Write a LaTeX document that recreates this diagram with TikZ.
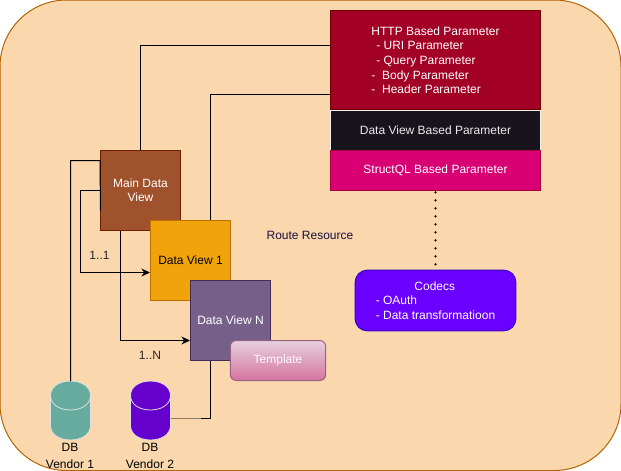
\documentclass[tikz,border=0pt]{standalone}
\usepackage{fontspec}
\setmainfont{Liberation Sans}
\usetikzlibrary{arrows.meta,calc}
\definecolor{bgf}{HTML}{FAD7AC}
\definecolor{bgd}{HTML}{B46504}
\definecolor{mainf}{HTML}{A0522D}
\definecolor{maind}{HTML}{6D1F00}
\definecolor{onef}{HTML}{F0A30A}
\definecolor{oned}{HTML}{BD7000}
\definecolor{nf}{HTML}{76608A}
\definecolor{nd}{HTML}{432D57}
\definecolor{tplt}{HTML}{E6D0DE}
\definecolor{tplb}{HTML}{D5739D}
\definecolor{tpld}{HTML}{996185}
\definecolor{httpf}{HTML}{A20025}
\definecolor{httpd}{HTML}{6F0000}
\definecolor{dvf}{HTML}{18141D}
\definecolor{sqf}{HTML}{D80073}
\definecolor{sqd}{HTML}{A50040}
\definecolor{codf}{HTML}{6A00FF}
\definecolor{codd}{HTML}{3700CC}
\definecolor{vaf}{HTML}{67AB9F}
\definecolor{vbf}{HTML}{6600CC}
\definecolor{navy}{HTML}{1A1040}
\definecolor{fade}{HTML}{8F7A62}
\newcommand{\pxfont}{\fontsize{9pt}{10.8pt}\selectfont}
\newcommand{\dbdrum}[2]{% centre x, fill colour
 \draw[fill=#2,draw=white!88!black,line width=0.6pt]
   (#1-20,395.5) .. controls (#1-20,376.2) and (#1+20,376.2) .. (#1+20,395.5)
   -- (#1+20,425.5) .. controls (#1+20,444.8) and (#1-20,444.8) .. (#1-20,425.5) -- cycle;
 \draw[draw=white!88!black,line width=0.6pt]
   (#1-20,395.5) .. controls (#1-20,414.8) and (#1+20,414.8) .. (#1+20,395.5);
}
\tikzset{
 box/.style={draw,rectangle,line width=0.75pt,inner sep=0pt,align=center,font=\pxfont},
 wire/.style={draw=black,line width=0.75pt},
 arr/.style={wire,-{Stealth[length=6.5pt,width=6pt]}},
 lbl/.style={inner sep=0pt,align=center,font=\pxfont},
 dbnode/.style={rectangle,minimum width=30pt,minimum height=44.5pt,inner sep=0pt,outer sep=0pt}
}
\begin{document}
\begin{tikzpicture}[x=0.75pt,y=-0.75pt]
\useasboundingbox (0,0) rectangle (621,471);
\path[fill=white] (0,0) rectangle (621,471);
\draw[fill=bgf,draw=bgd,line width=0.75pt,rounded corners=50pt] (0,0) rectangle (621,470.5);
% boxes
\node[box,fill=httpf,draw=httpd,text=white,minimum width=157.5pt,minimum height=74.6pt,align=left] (http) at (435.5,60.2) {HTTP Based Parameter\\[0.2pt]\hspace*{3.6pt}- URI Parameter\\[0.2pt]\hspace*{3.6pt}- Query Parameter\\[0.2pt]-\hspace*{5pt}Body Parameter\\[0.2pt]-\hspace*{5pt}Header Parameter};
\node[box,fill=dvf,draw=white!94!black,text=white!92!black,minimum width=156.8pt,minimum height=30pt] (dv) at (435.5,130) {Data View Based Parameter};
\node[box,fill=sqf,draw=sqd,text=white,minimum width=157.5pt,minimum height=30pt] (sq) at (435.5,170.5) {StructQL Based Parameter};
\node[box,fill=codf,draw=codd,text=white,rounded corners=9pt,minimum width=120.5pt,minimum height=45.5pt,align=left] (cod) at (435.5,300.5) {\hspace*{29pt}Codecs\\\hspace*{0pt}- OAuth\\- Data transformatioon};
% coordinates
\coordinate (jhA) at (140.5,45);
\coordinate (jhB) at (210.5,94.5);
\coordinate (ja) at (70.5,160.5);
\coordinate (jz) at (100.5,210.5);
\coordinate (jb) at (80.5,190.5);
\coordinate (jc) at (80.5,272.5);
\coordinate (jd) at (120.5,340.5);
\coordinate (je) at (210.5,418);
\coordinate (jf) at (201,418);
\node[box,fill=mainf,draw=maind,text=white,minimum width=60pt,minimum height=60pt] (main) at (140.5,190.5) {Main Data\\View};
\node[box,fill=onef,draw=oned,text=black,minimum width=60pt,minimum height=60pt] (one) at (190.5,260.5) {Data View 1};
\node[box,fill=nf,draw=nd,text=white,minimum width=60pt,minimum height=60pt] (nview) at (230.5,320.5) {Data View N};
\node[box,draw=tpld,top color=tplt,bottom color=tplb,text=white!92!tplt,rounded corners=4.5pt,minimum width=71.5pt,minimum height=30pt] (tpl) at (278,360.5) {\raisebox{-0.7pt}{Template}};
\dbdrum{70.5}{vaf}
\dbdrum{150.5}{vbf}
\node[dbnode] (va) at (70.5,410.5) {};
\node[dbnode] (vb) at (150.5,410.5) {};
% connectors
\draw[wire] (main.north) -- (jhA) -- (http.west |- jhA);
\draw[wire] (one.north -| jhB) -- (jhB) -- (http.west |- jhB);
\draw[wire] (jz) -- (main.west |- ja) -- (ja) -- (va.north -| ja);
\draw[arr] (main.west |- jb) -- (jb) -- (jc) -- (one.west |- jc);
\draw[arr] (main.south -| jd) -- (jd) -- (nview.west |- jd);
\draw[wire] (nview.south -| je) -- (je) -- (jf);
\draw[draw=fade,line width=0.75pt] (jf) -- (vb.east |- jf);
\draw[black,line width=1.8pt,line cap=round,dash pattern=on 0pt off 6pt,dash phase=5pt] (sq.south) -- (cod.north);
% labels
\node[lbl,text=navy] (rr) at (310,235.2) {Route Resource};
\node[lbl,text=black!85] (l1) at (99.5,255) {1..1};
\node[lbl,text=black!85] (ln) at (150,355) {1..N};
\node[lbl,text=black] (ta) at (70,456) {DB\\[1.6pt]Vendor 1};
\node[lbl,text=black] (tb) at (150,456) {DB\\[1.6pt]Vendor 2};
\end{tikzpicture}
\end{document}
